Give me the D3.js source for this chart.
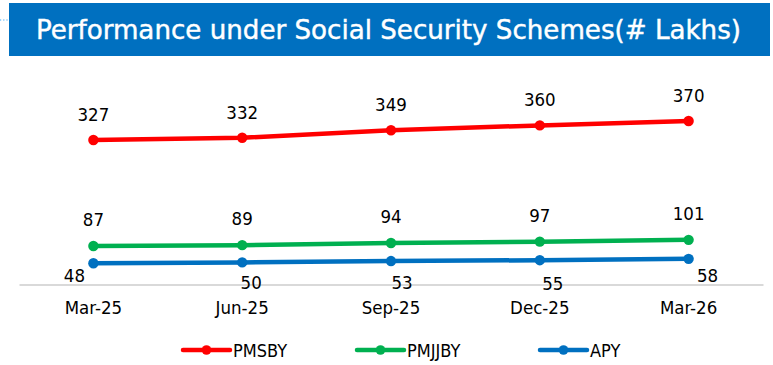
<!DOCTYPE html>
<html>
<head>
<meta charset="utf-8">
<script src="https://cdn.jsdelivr.net/npm/d3@7/dist/d3.min.js"></script>
<style>
  html, body { margin: 0; padding: 0; background: #fff; }
  svg { display: block; }
  text { font-family: "DejaVu Sans Condensed", "DejaVu Sans", sans-serif; font-stretch: condensed; }
</style>
</head>
<body>
<svg id="chart" width="773" height="365"></svg>
<script>
// Quarterly figures, in lakhs
const quarters = ["Mar-25", "Jun-25", "Sep-25", "Dec-25", "Mar-26"];
const pmsby  = [327, 332, 349, 360, 370];
const pmjjby = [87, 89, 94, 97, 101];
const apy    = [48, 50, 53, 55, 58];
const seriesNames = ["PMSBY", "PMJJBY", "APY"];
const titleText = "Performance under Social Security Schemes(# Lakhs)";

// Label offsets relative to each point (dx, dy of the baseline)
const labelOffsets = {
  PMSBY:  [[0, -19], [0, -19], [0, -19], [0, -19], [0, -19]],
  PMJJBY: [[0, -20], [0, -20], [0, -20], [0, -20], [0, -20]],
  APY:    [[-19, 19], [9, 27], [11, 28], [13, 30], [19, 23]]
};

const series = [
  { name: seriesNames[0], values: pmsby,  color: "#FF0000" },
  { name: seriesNames[1], values: pmjjby, color: "#00B050" },
  { name: seriesNames[2], values: apy,    color: "#0070C0" }
];

const svg = d3.select("#chart");

// Title banner
svg.append("line")
  .attr("x1", 0).attr("x2", 8).attr("y1", 20).attr("y2", 20)
  .attr("stroke", "#3fa9f5").attr("stroke-width", 1.2)
  .attr("stroke-dasharray", "1.2,2");
svg.append("rect")
  .attr("x", 9).attr("y", 3).attr("width", 761).attr("height", 53)
  .attr("fill", "#0070C0");
svg.append("text")
  .attr("x", 36).attr("y", 39)
  .attr("fill", "#fff")
  .attr("font-size", 27)
  .attr("textLength", 705)
  .attr("lengthAdjust", "spacingAndGlyphs")
  .attr("stroke", "#fff")
  .attr("stroke-width", 0.4)
  .text(titleText);

// Scales
const x = d3.scaleBand().domain(quarters).range([19, 763]);
const cx = d => x(d) + x.bandwidth() / 2;
const y = d3.scaleLinear().domain([0, 400]).range([284.5, 107.7]);

// Category axis
const axis = svg.append("g")
  .attr("transform", `translate(0,${y(0)})`)
  .call(d3.axisBottom(x).tickSize(0).tickPadding(19));
axis.select(".domain").attr("stroke", "#D9D9D9").attr("stroke-width", 2);
axis.selectAll(".tick text")
  .attr("font-size", 18.5)
  .attr("fill", "#000")
  .attr("dy", 0)
  .attr("y", 29.5);

// Lines, markers and value labels
const line = d3.line().x((d, i) => cx(quarters[i])).y(d => y(d));

series.forEach(s => {
  const g = svg.append("g");
  g.append("path")
    .datum(s.values)
    .attr("d", line)
    .attr("fill", "none")
    .attr("stroke", s.color)
    .attr("stroke-width", 4.5)
    .attr("stroke-linecap", "round");
  g.selectAll("circle")
    .data(s.values)
    .join("circle")
    .attr("cx", (d, i) => cx(quarters[i]))
    .attr("cy", d => y(d))
    .attr("r", 5.2)
    .attr("fill", s.color);
  g.selectAll("text")
    .data(s.values)
    .join("text")
    .attr("x", (d, i) => cx(quarters[i]) + labelOffsets[s.name][i][0])
    .attr("y", (d, i) => y(d) + labelOffsets[s.name][i][1])
    .attr("text-anchor", "middle")
    .attr("font-size", 18.5)
    .attr("fill", "#000")
    .text(d => d);
});

// Legend
const legendX = [183, 357, 540];
const legend = svg.append("g");
series.forEach((s, i) => {
  const lg = legend.append("g").attr("transform", `translate(${legendX[i]},350)`);
  lg.append("line")
    .attr("x1", 0).attr("x2", 47).attr("y1", 0).attr("y2", 0)
    .attr("stroke", s.color).attr("stroke-width", 4.5).attr("stroke-linecap", "round");
  lg.append("circle").attr("cx", 23.5).attr("cy", 0).attr("r", 4.8).attr("fill", s.color);
  lg.append("text")
    .attr("x", 50).attr("y", 6.5)
    .attr("font-size", 18)
    .attr("fill", "#000")
    .text(s.name);
});
</script>
</body>
</html>
